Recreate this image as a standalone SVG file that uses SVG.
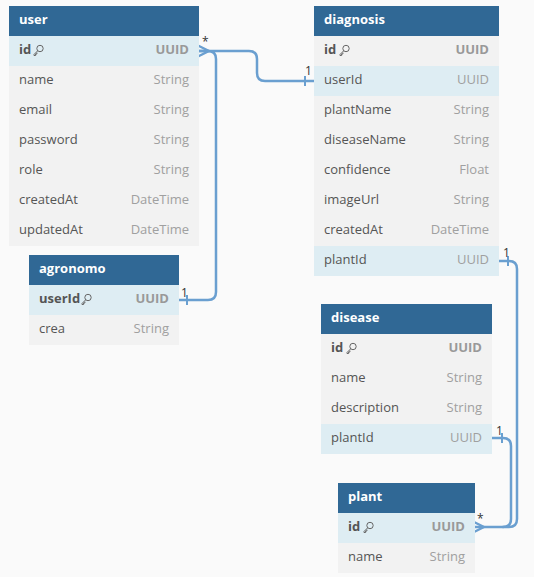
<svg xmlns="http://www.w3.org/2000/svg" width="534" height="577" viewBox="0 0 534 577">
<style>
.bg{fill:#fafafa}
.hd{fill:#306895}
.ht{fill:#ffffff;font-family:"Open Sans","Noto Sans",sans-serif;font-size:13px;font-weight:bold}
.r{fill:#f2f2f2}
.rb{fill:#deedf3}
.fn{fill:#555555;font-family:"Open Sans","Noto Sans",sans-serif;font-size:13px}
.ft{fill:#a0a0a0;font-family:"Open Sans","Noto Sans",sans-serif;font-size:13px;text-anchor:end}
.pk{font-weight:bold}
.pkt{fill:#999999;font-weight:bold}
.cn{fill:none;stroke:#6a9fd0;stroke-width:2.5;stroke-linejoin:round;stroke-linecap:round}
.tk{fill:none;stroke:#6a9fd0;stroke-width:2}
.lb{fill:#333333;font-family:"Open Sans","Noto Sans",sans-serif;font-size:12px}
</style>
<defs>
<g id="key" fill="none" stroke="#666" stroke-width="1">
<circle cx="7" cy="3.5" r="3.2"/>
<path d="M4.7 5.8 L1 9.5 L1 10.5 L2.6 10.5 L2.6 9 L3.9 9 L3.9 7.6"/>
</g>
</defs>
<rect class="bg" x="0" y="0" width="534" height="577"/>

<g id="connectors">
<path class="cn" d="M199 51 H249 Q257 51 257 59 V73 Q257 81 265 81 H314"/>
<path class="cn" d="M199 51 H208 Q216 51 216 59 V292 Q216 300 208 300 H179"/>
<path class="cn" d="M199 46 L209 51 L199 56"/>
<line class="tk" x1="305" y1="76" x2="305" y2="86"/>
<line class="tk" x1="187" y1="295" x2="187" y2="305"/>
<text class="lb" x="202" y="46">*</text>
<text class="lb" x="305" y="75">1</text>
<text class="lb" x="181" y="297">1</text>
<path class="cn" d="M499 261 H509 Q517 261 517 269 V519 Q517 527 509 527 H474"/>
<path class="cn" d="M492 438 H503 Q511 438 511 446 V519 Q511 527 503 527"/>
<path class="cn" d="M474 522 L484 527 L474 532"/>
<line class="tk" x1="508" y1="256" x2="508" y2="266"/>
<line class="tk" x1="502" y1="433" x2="502" y2="443"/>
<text class="lb" x="503" y="257">1</text>
<text class="lb" x="496" y="435">1</text>
<text class="lb" x="477" y="523">*</text>
</g>

<g id="user">
<rect class="hd" x="9" y="6" width="190" height="30"/>
<text class="ht" x="19" y="24">user</text>
<rect class="rb" x="9" y="36" width="190" height="30"/>
<rect class="r" x="9" y="66" width="190" height="180"/>
<text class="fn pk" x="19" y="54">id</text><use href="#key" x="33" y="45"/><text class="ft pkt" x="189" y="54">UUID</text>
<text class="fn" x="19" y="84">name</text><text class="ft" x="189" y="84">String</text>
<text class="fn" x="19" y="114">email</text><text class="ft" x="189" y="114">String</text>
<text class="fn" x="19" y="144">password</text><text class="ft" x="189" y="144">String</text>
<text class="fn" x="19" y="174">role</text><text class="ft" x="189" y="174">String</text>
<text class="fn" x="19" y="204">createdAt</text><text class="ft" x="189" y="204">DateTime</text>
<text class="fn" x="19" y="234">updatedAt</text><text class="ft" x="189" y="234">DateTime</text>
</g>

<g id="diagnosis">
<rect class="hd" x="314" y="6" width="185" height="30"/>
<text class="ht" x="324" y="24">diagnosis</text>
<rect class="r" x="314" y="36" width="185" height="210"/>
<rect class="rb" x="314" y="66" width="185" height="30"/>
<rect class="rb" x="314" y="246" width="185" height="30"/>
<text class="fn pk" x="324" y="54">id</text><use href="#key" x="339" y="45"/><text class="ft pkt" x="489" y="54">UUID</text>
<text class="fn" x="324" y="84">userId</text><text class="ft" x="489" y="84">UUID</text>
<text class="fn" x="324" y="114">plantName</text><text class="ft" x="489" y="114">String</text>
<text class="fn" x="324" y="144">diseaseName</text><text class="ft" x="489" y="144">String</text>
<text class="fn" x="324" y="174">confidence</text><text class="ft" x="489" y="174">Float</text>
<text class="fn" x="324" y="204">imageUrl</text><text class="ft" x="489" y="204">String</text>
<text class="fn" x="324" y="234">createdAt</text><text class="ft" x="489" y="234">DateTime</text>
<text class="fn" x="324" y="264">plantId</text><text class="ft" x="489" y="264">UUID</text>
</g>

<g id="agronomo">
<rect class="hd" x="29" y="255" width="150" height="30"/>
<text class="ht" x="39" y="273">agronomo</text>
<rect class="rb" x="29" y="285" width="150" height="30"/>
<rect class="r" x="29" y="315" width="150" height="30"/>
<text class="fn pk" x="39" y="303">userId</text><use href="#key" x="81" y="294"/><text class="ft pkt" x="169" y="303">UUID</text>
<text class="fn" x="39" y="333">crea</text><text class="ft" x="169" y="333">String</text>
</g>

<g id="disease">
<rect class="hd" x="321" y="304" width="171" height="30"/>
<text class="ht" x="331" y="322">disease</text>
<rect class="r" x="321" y="334" width="171" height="90"/>
<rect class="rb" x="321" y="424" width="171" height="30"/>
<text class="fn pk" x="331" y="352">id</text><use href="#key" x="346" y="343"/><text class="ft pkt" x="482" y="352">UUID</text>
<text class="fn" x="331" y="382">name</text><text class="ft" x="482" y="382">String</text>
<text class="fn" x="331" y="412">description</text><text class="ft" x="482" y="412">String</text>
<text class="fn" x="331" y="442">plantId</text><text class="ft" x="482" y="442">UUID</text>
</g>

<g id="plant">
<rect class="hd" x="338" y="483" width="137" height="30"/>
<text class="ht" x="348" y="501">plant</text>
<rect class="rb" x="338" y="513" width="137" height="30"/>
<rect class="r" x="338" y="543" width="137" height="30"/>
<text class="fn pk" x="348" y="531">id</text><use href="#key" x="363" y="522"/><text class="ft pkt" x="465" y="531">UUID</text>
<text class="fn" x="348" y="561">name</text><text class="ft" x="465" y="561">String</text>
</g>
</svg>
